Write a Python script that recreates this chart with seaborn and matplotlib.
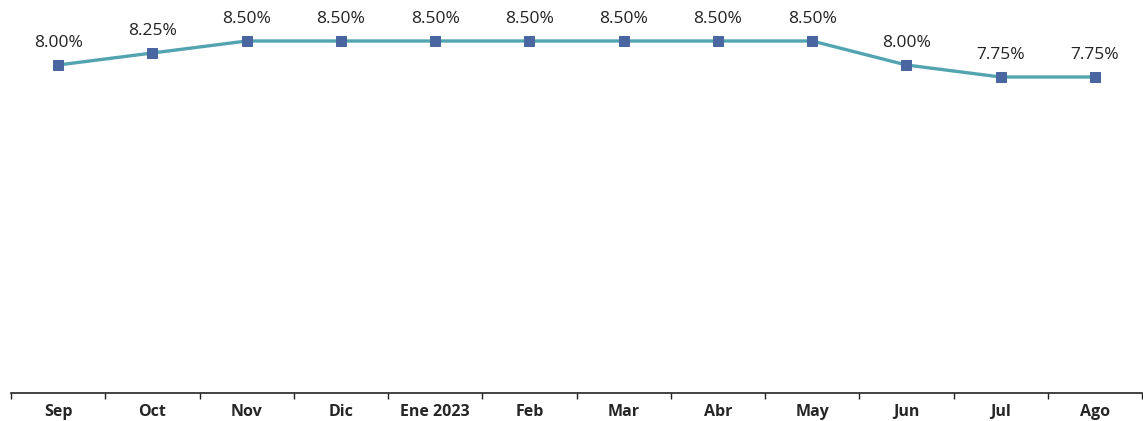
import pandas as pd
import matplotlib.pyplot as plt
import seaborn as sns

months = ['Sep', 'Oct', 'Nov', 'Dic', 'Ene 2023', 'Feb', 'Mar', 'Abr', 'May', 'Jun', 'Jul', 'Ago']
rates = [8.00, 8.25, 8.50, 8.50, 8.50, 8.50, 8.50, 8.50, 8.50, 8.00, 7.75, 7.75]

data = pd.DataFrame({'pos': range(len(months)), 'rate': rates})

sns.set_style('white')
plt.rcParams['font.family'] = ['Open Sans', 'DejaVu Sans']

fig = plt.figure(figsize=(11.43, 4.21), dpi=100)
ax = fig.add_axes([11 / 1143, 28 / 421, 1131 / 1143, 383 / 421])

sns.lineplot(x='pos', y='rate', data=data, ax=ax, color='#52A5B0', linewidth=2.4,
             marker='s', markersize=7, markerfacecolor='#4A66A1', markeredgecolor='#4A66A1')

for i, r in enumerate(rates):
    ax.annotate(f'{r:.2f}%', (i, r), xytext=(0, 15.5), textcoords='offset points',
                ha='center', va='center', fontsize=12.5, color='#222222')

ax.set_xlim(-0.5, len(months) - 0.5)
ax.set_ylim(8.5 - 352 / 48, 8.5 + 31 / 48)
ax.set_xticks([i - 0.5 for i in range(len(months) + 1)])
ax.set_xticklabels([])
ax.set_xticks(range(len(months)), minor=True)
ax.set_xticklabels(months, minor=True, fontweight='bold', fontsize=11.5)
ax.tick_params(axis='x', which='major', bottom=True, length=4, width=1, color='#222222', direction='out')
ax.tick_params(axis='x', which='minor', bottom=True, length=0, pad=8)
ax.set_yticks([])
ax.set_xlabel('')
ax.set_ylabel('')
for s in ['top', 'right', 'left']:
    ax.spines[s].set_visible(False)
ax.spines['bottom'].set_color('#222222')
ax.spines['bottom'].set_linewidth(1.2)

fig.savefig('out.png', dpi=100)
